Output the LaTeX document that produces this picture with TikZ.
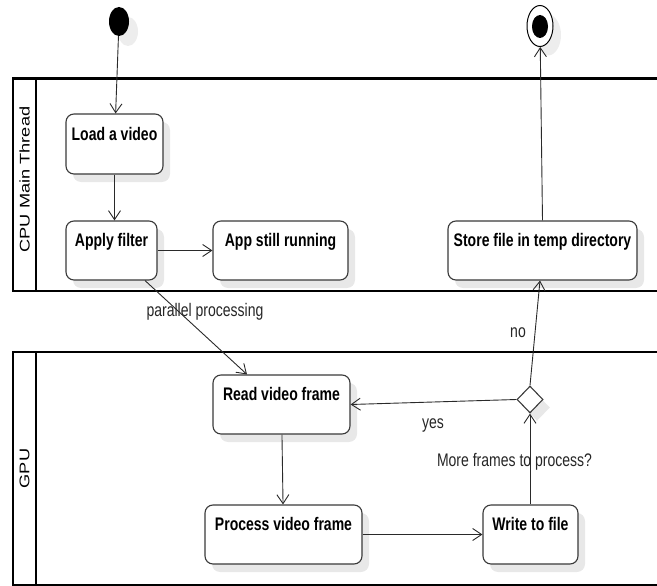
\documentclass[tikz,border=0pt]{standalone}
\usepackage{fontspec}
\setmainfont{Liberation Sans}
\newfontfamily\nodefam{Liberation Sans}[FakeStretch=0.77]
\newfontfamily\lanefam{Liberation Sans}[FakeStretch=1.3]
\usetikzlibrary{arrows.meta,shapes.geometric,shadows,calc}
\definecolor{edgegray}{HTML}{2A2A2A}
\definecolor{bordergray}{HTML}{3A3A3A}
\tikzset{
  shade/.style={drop shadow={shadow xshift=7pt, shadow yshift=-8pt, fill=black!9, opacity=1}},
  act/.style={draw=bordergray, line width=1.1pt, rounded corners=8pt, fill=white, shade, inner sep=0pt},
  acttext/.style={font=\nodefam\bfseries\fontsize{18.2}{20}\selectfont, anchor=base, inner sep=0pt},
  edgetext/.style={font=\nodefam\fontsize{18.2}{20}\selectfont, inner sep=0pt, text=black!85},
  lanetext/.style={font=\lanefam\fontsize{14}{16}\selectfont, rotate=90, inner sep=0pt},
  lane/.style={draw=black, line width=2.4pt},
  flow/.style={draw=edgegray, line width=0.9pt, -{Straight Barb[length=9pt,width=12pt,line width=0.9pt]}},
}
\begin{document}
\begin{tikzpicture}[x=1pt,y=-1pt]
\useasboundingbox (0,0) rectangle (657,586);
% swimlanes
\draw[lane] (657,78.5) -- (13,78.5) -- (13,291) -- (657,291);
\draw[lane] (36,78.5) -- (36,291);
\draw[lane] (657,352) -- (13,352) -- (13,585) -- (657,585);
\draw[lane] (36,352) -- (36,585);
\node[lanetext] (lcpu) at (24.5,179.5) {CPU Main Thread};
\node[lanetext] (lgpu) at (24.5,468.5) {GPU};
% start / end
\node[ellipse, fill=black, minimum width=20pt, minimum height=29pt, inner sep=0pt, drop shadow={shadow xshift=9pt, shadow yshift=-10pt, fill=black!7, opacity=1}] (start) at (119,21.5) {};
\node[ellipse, draw=black, line width=1pt, fill=white, minimum width=26pt, minimum height=41pt, inner sep=0pt, drop shadow={shadow xshift=8pt, shadow yshift=-9pt, fill=black!7, opacity=1}] (end) at (540,26) {};
\node[ellipse, fill=black, minimum width=16pt, minimum height=23pt, inner sep=0pt] (endin) at (540,26.5) {};
% activities
\node[act, minimum width=97pt, minimum height=60pt, label={[acttext, yshift=-27.5pt]north:Load a video}] (load) at (114.5,144) {};
\node[act, minimum width=91pt, minimum height=59pt, label={[acttext, yshift=-26.5pt]north:Apply filter}] (apply) at (111.5,250.5) {};
\node[act, minimum width=135pt, minimum height=59pt, label={[acttext, yshift=-26.5pt]north:App still running}] (running) at (280.5,250.5) {};
\node[act, minimum width=189pt, minimum height=59pt, label={[acttext, yshift=-26.5pt]north:Store file in temp directory}] (store) at (542.5,250.5) {};
\node[act, minimum width=137pt, minimum height=59pt, label={[acttext, yshift=-26.5pt]north:Read video frame}] (read) at (281.5,404.5) {};
\node[act, minimum width=157pt, minimum height=59pt, label={[acttext, yshift=-26.5pt]north:Process video frame}] (process) at (283.5,534.5) {};
\node[act, minimum width=95pt, minimum height=59pt, label={[acttext, yshift=-26.5pt]north:Write to file}] (write) at (530.5,534.5) {};
\node[diamond, draw=bordergray, line width=1.1pt, fill=white, minimum width=26pt, minimum height=27pt, inner sep=0pt, aspect=0.96, shade] (dec) at (530,399.5) {};
% flows
\draw[flow] (start) -- (load);
\draw[flow] (load.south) -- (load.south |- apply.north);
\draw[flow] (apply) -- (running);
\draw[flow] ([xshift=33.5pt]apply.south) -- ([xshift=-34.5pt]read.north);
\draw[flow] (read) -- (process);
\draw[flow] (process) -- (write);
\draw[flow] (write.north -| dec.south) -- (dec.south);
\draw[flow] (dec.west) -- (read.east);
\draw[flow] (dec.north) -- ([xshift=-2.5pt]store.south);
\draw[flow] (store.north) -- (end);
% labels
\node[edgetext] (tpar) at (205,312) {parallel processing};
\node[edgetext] (tno) at (518,333) {no};
\node[edgetext] (tyes) at (433,425) {yes};
\node[edgetext] (tmore) at (514.5,462) {More frames to process?};
\end{tikzpicture}
\end{document}
